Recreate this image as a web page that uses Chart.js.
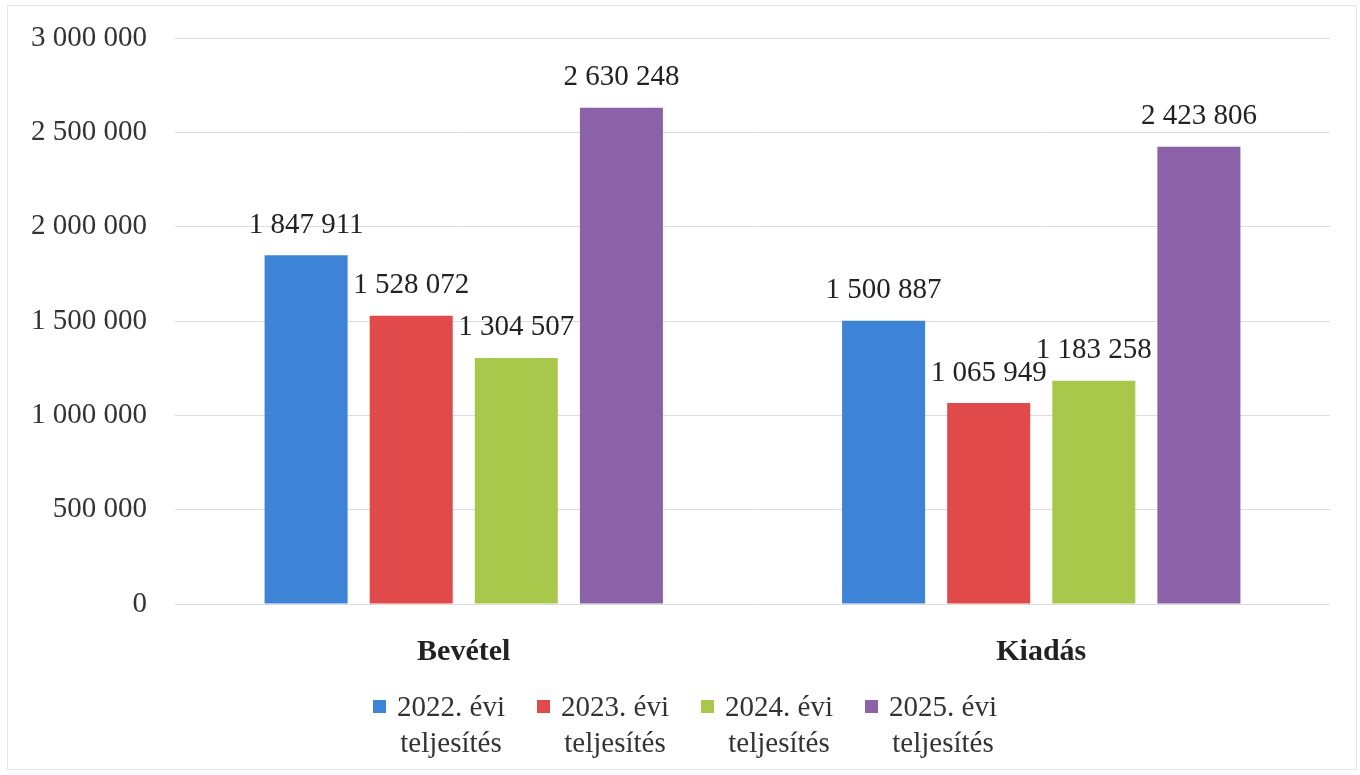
<!DOCTYPE html>
<html lang="hu">
<head>
<meta charset="utf-8">
<title>Bevétel és kiadás</title>
<script src="https://cdn.jsdelivr.net/npm/chart.js@4/dist/chart.umd.min.js"></script>
<style>
    html, body { margin: 0; padding: 0; background: #fff; }
    #wrap { position: relative; width: 1360px; height: 775px; }
    #frame { position: absolute; left: 7px; top: 5px; width: 1350px; height: 765px; border: 1px solid #e6e6e6; box-sizing: border-box; }
    #legend { position: absolute; left: 373px; top: 688px; display: flex; font-family: "Liberation Serif", serif; font-size: 29px; line-height: 36px; color: #333; }
    .item { display: flex; align-items: flex-start; width: 143px; margin-right: 21px; }
    .box { width: 13px; height: 13px; margin-top: 12px; flex: none; }
    .txt { width: 130px; text-align: center; }
</style>
</head>
<body>
<div id="wrap">
    <div id="frame"></div>
    <canvas id="chart" width="1360" height="775"></canvas>
    <div id="legend"></div>
</div>
<script>
const categories = ['Bevétel', 'Kiadás'];
const seriesNames = [
    ['2022. évi', 'teljesítés'],
    ['2023. évi', 'teljesítés'],
    ['2024. évi', 'teljesítés'],
    ['2025. évi', 'teljesítés']
];
const values2022 = [1847911, 1500887];
const values2023 = [1528072, 1065949];
const values2024 = [1304507, 1183258];
const values2025 = [2630248, 2423806];
const yTicks = [0, 500000, 1000000, 1500000, 2000000, 2500000, 3000000];

const colors = ['#3d84d6', '#e04a4a', '#a9c84b', '#8b61a8'];
const FONT = '"Liberation Serif", serif';

function fmt(n) {
    return String(n).replace(/\B(?=(\d{3})+(?!\d))/g, ' ');
}

// value labels above bars
const barLabels = {
    id: 'barLabels',
    afterDatasetsDraw(chart) {
        const ctx = chart.ctx;
        ctx.save();
        ctx.font = '29px ' + FONT;
        ctx.fillStyle = '#222';
        ctx.textAlign = 'center';
        ctx.textBaseline = 'middle';
        chart.data.datasets.forEach((ds, i) => {
            chart.getDatasetMeta(i).data.forEach((bar, j) => {
                ctx.fillText(fmt(ds.data[j]), bar.x, bar.y - 30);
            });
        });
        ctx.restore();
    }
};

const allValues = [values2022, values2023, values2024, values2025];

new Chart(document.getElementById('chart'), {
    type: 'bar',
    data: {
        labels: categories,
        datasets: allValues.map((vals, i) => ({
            label: seriesNames[i].join(' '),
            data: vals,
            backgroundColor: colors[i],
            categoryPercentage: 0.728,
            barPercentage: 0.79
        }))
    },
    options: {
        responsive: false,
        animation: false,
        layout: { padding: { top: 38, right: 30, bottom: 111, left: 0 } },
        plugins: {
            legend: { display: false },
            tooltip: { enabled: false }
        },
        scales: {
            x: {
                grid: { display: false },
                border: { display: false },
                ticks: {
                    padding: 22,
                    color: '#222',
                    font: { family: FONT, size: 30, weight: 'bold' }
                },
                afterFit: s => { s.height = 60; }
            },
            y: {
                min: 0,
                max: 3000000,
                afterBuildTicks: s => { s.ticks = yTicks.map(v => ({ value: v })); },
                grid: { color: '#dcdcdc', drawTicks: false },
                border: { display: false },
                ticks: {
                    padding: 28,
                    color: '#333',
                    font: { family: FONT, size: 29 },
                    callback: v => fmt(v)
                },
                afterFit: s => {
                    s.width = 175;
                    s.paddingTop = 0;
                    s.paddingBottom = 0;
                }
            }
        }
    },
    plugins: [barLabels]
});

// legend with two-line labels
const legend = document.getElementById('legend');
seriesNames.forEach((lines, i) => {
    const item = document.createElement('div');
    item.className = 'item';
    const box = document.createElement('div');
    box.className = 'box';
    box.style.background = colors[i];
    const txt = document.createElement('div');
    txt.className = 'txt';
    txt.innerHTML = lines.join('<br>');
    item.appendChild(box);
    item.appendChild(txt);
    legend.appendChild(item);
});
</script>
</body>
</html>
